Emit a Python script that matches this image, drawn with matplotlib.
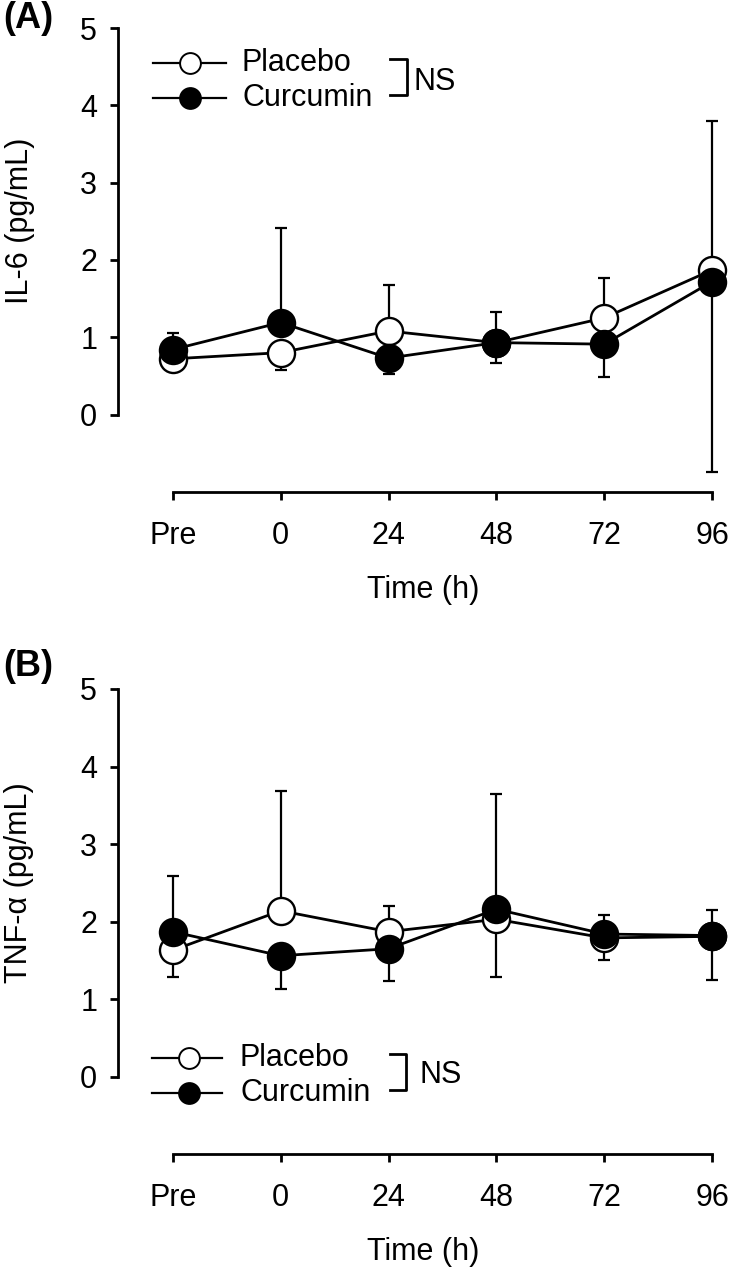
import matplotlib
matplotlib.use("Agg")
import matplotlib.pyplot as plt
import numpy as np

plt.rcParams['font.family'] = ['Liberation Sans', 'DejaVu Sans']

# ---------------- data ----------------
time_labels = ["Pre", "0", "24", "48", "72", "96"]

# Panel A: IL-6 (pg/mL)
il6_placebo = [0.72, 0.80, 1.08, 0.93, 1.25, 1.87]
il6_placebo_sd_up = [0.0, 0.0, 0.60, 0.0, 0.51, 1.93]
il6_placebo_sd_low = [0.0, 0.23, 0.0, 0.27, 0.0, 0.0]
il6_curcumin = [0.84, 1.19, 0.73, 0.93, 0.91, 1.72]
il6_curcumin_sd_up = [0.21, 1.22, 0.0, 0.39, 0.0, 0.0]
il6_curcumin_sd_low = [0.0, 0.0, 0.21, 0.0, 0.43, 2.46]

# Panel B: TNF-alpha (pg/mL)
tnf_placebo = [1.63, 2.14, 1.87, 2.03, 1.79, 1.81]
tnf_placebo_sd_up = [0.0, 1.55, 0.33, 0.0, 0.0, 0.0]
tnf_placebo_sd_low = [0.34, 0.0, 0.0, 0.75, 0.28, 0.56]
tnf_curcumin = [1.87, 1.56, 1.65, 2.16, 1.84, 1.82]
tnf_curcumin_sd_up = [0.72, 0.0, 0.0, 1.49, 0.24, 0.33]
tnf_curcumin_sd_low = [0.0, 0.43, 0.41, 0.0, 0.0, 0.0]

yticks = [0, 1, 2, 3, 4, 5]

FS = 22
W, H = 734, 1267

fig = plt.figure(figsize=(W / 100, H / 100), dpi=100)


def make_axes(top_px, unit_px):
    left_px = 118
    xspacing = 107.9
    xl = -(172.7 - left_px) / xspacing
    xr = 5.15
    width_px = (xr - xl) * xspacing
    height_px = 6 * unit_px
    ax = fig.add_axes([left_px / W, 1 - (top_px + height_px) / H,
                       width_px / W, height_px / H])
    ax.set_xlim(xl, xr)
    ax.set_ylim(-1, 5)
    return ax, width_px, height_px


def style_axes(ax):
    for s in ['top', 'right']:
        ax.spines[s].set_visible(False)
    ax.spines['left'].set_bounds(0, 5)
    ax.spines['bottom'].set_bounds(0, 5)
    for s in ['left', 'bottom']:
        ax.spines[s].set_linewidth(2.0)
    ax.set_yticks(yticks)
    ax.set_yticklabels([str(v) for v in yticks])
    ax.set_xticks(range(len(time_labels)))
    ax.set_xticklabels(time_labels)
    ax.tick_params(axis='both', direction='out', length=6, width=2.0,
                   labelsize=FS)
    ax.tick_params(axis='x', pad=15)
    ax.tick_params(axis='y', pad=9)
    ax.set_xlabel("Time (h)", fontsize=FS, labelpad=17)


def draw_series(ax, mean, up, low, filled, z):
    x = np.arange(len(mean))
    ax.errorbar(x, mean, yerr=[low, up], fmt='none', ecolor='black',
                elinewidth=1.6, capsize=4, capthick=1.6, zorder=z)
    ax.plot(x, mean, '-', color='black', lw=2.0, marker='o', ms=19.5,
            mfc='black' if filled else 'white', mec='black', mew=1.7,
            zorder=z + 1, clip_on=False)


def legend(ax, w_px, h_px, top_px, rows_px, line_px, marker_px, text_px,
           br_px, br_y_px, ns_px, ns_y_px):
    def fx(px):
        return (px - 118) / w_px

    def fy(py):
        return 1 - (py - top_px) / h_px
    for (ry, filled, lab) in zip(rows_px, [False, True], ["Placebo", "Curcumin"]):
        ax.plot([fx(line_px[0]), fx(line_px[1])], [fy(ry), fy(ry)], '-',
                color='black', lw=1.6, transform=ax.transAxes, clip_on=False)
        ax.plot([fx(marker_px)], [fy(ry)], 'o', ms=15,
                mfc='black' if filled else 'white', mec='black', mew=1.4,
                transform=ax.transAxes, clip_on=False)
        ax.text(fx(text_px), fy(ry), lab, fontsize=FS, va='center',
                ha='left', transform=ax.transAxes)
    bx0, bx1 = fx(br_px[0]), fx(br_px[1])
    by0, by1 = fy(br_y_px[0]), fy(br_y_px[1])
    ax.plot([bx0, bx1, bx1, bx0], [by0, by0, by1, by1], '-', color='black',
            lw=2.0, transform=ax.transAxes, clip_on=False)
    ax.text(fx(ns_px), fy(ns_y_px), "NS", fontsize=FS, va='center',
            ha='left', transform=ax.transAxes)


# ---------------- Panel A ----------------
topA, unitA = 28, 77.3
axA, wA, hA = make_axes(topA, unitA)
style_axes(axA)
draw_series(axA, il6_placebo, il6_placebo_sd_up, il6_placebo_sd_low, False, 2)
draw_series(axA, il6_curcumin, il6_curcumin_sd_up, il6_curcumin_sd_low, True, 4)
axA.set_ylabel("IL-6 (pg/mL)", fontsize=FS)
axA.yaxis.set_label_coords((35 - 118) / wA, 3.5 / 6)
legend(axA, wA, hA, topA, [63, 98], (153, 226), 190, 242,
       (390, 407), (59, 95), 413, 82)

# ---------------- Panel B ----------------
topB, unitB = 689, 77.54
axB, wB, hB = make_axes(topB, unitB)
style_axes(axB)
draw_series(axB, tnf_placebo, tnf_placebo_sd_up, tnf_placebo_sd_low, False, 2)
draw_series(axB, tnf_curcumin, tnf_curcumin_sd_up, tnf_curcumin_sd_low, True, 4)
axB.set_ylabel("TNF-α (pg/mL)", fontsize=FS)
axB.yaxis.set_label_coords((34 - 118) / wB, 3.5 / 6)
legend(axB, wB, hB, topB, [1058, 1093], (152, 222), 189, 240,
       (390, 406), (1054, 1090), 420, 1075)

fig.text(3 / W, 1 - 18 / H, "(A)", fontsize=26, fontweight='bold',
         va='center', ha='left')
fig.text(3 / W, 1 - 666 / H, "(B)", fontsize=26, fontweight='bold',
         va='center', ha='left')

fig.savefig("out.png", dpi=100)
